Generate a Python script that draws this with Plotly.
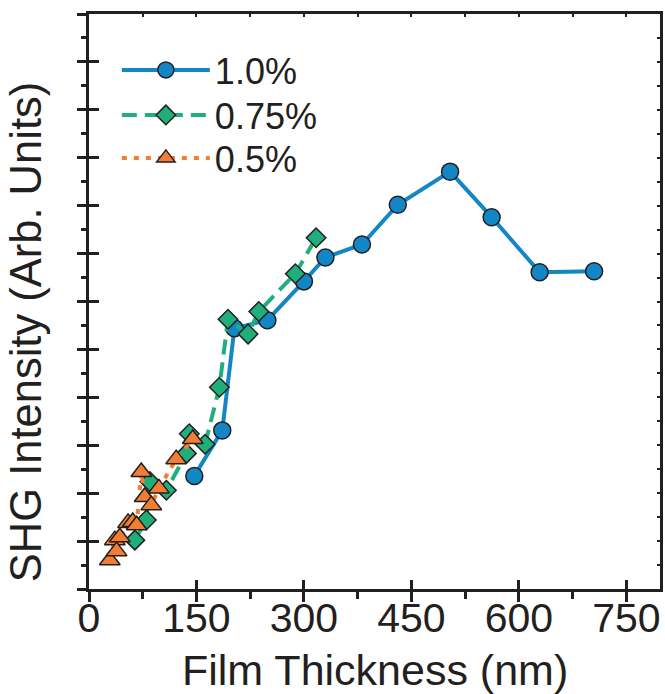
import plotly.graph_objects as go

# Data (x: film thickness in nm, y: SHG intensity, arb. units)
x_10 = [147, 186, 203, 249, 300, 330, 381, 431, 504, 562, 629, 705]
y_10 = [2.36, 3.31, 5.44, 5.61, 6.42, 6.92, 7.19, 8.02, 8.71, 7.76, 6.61, 6.63]

x_075 = [64, 80, 85, 108, 136, 140, 162, 182, 194, 222, 237, 288, 317]
y_075 = [1.02, 1.44, 2.24, 2.06, 2.83, 3.24, 3.02, 4.21, 5.63, 5.32, 5.79, 6.58, 7.33]

x_05 = [29, 36, 38.5, 43, 54.5, 61, 66.5, 73, 77.7, 87, 97.6, 121.7, 144.8]
y_05 = [0.60, 1.02, 0.79, 1.08, 1.38, 1.40, 1.33, 2.44, 1.92, 1.75, 2.10, 2.71, 3.13]

series_names = ["1.0%", "0.75%", "0.5%"]
x_ticks = [0, 150, 300, 450, 600, 750]
x_title = "Film Thickness (nm)"
y_title = "SHG Intensity (Arb. Units)"

INK = "#231F20"
FONT = "Liberation Sans, Arial, sans-serif"
BLUE = "#1387C6"
GREEN = "#20AF7B"
ORANGE = "#F37E33"

fig = go.Figure()
fig.add_trace(go.Scatter(
    x=x_10, y=y_10, name=series_names[0], mode="lines+markers", legend="legend",
    line=dict(color=BLUE, width=4),
    marker=dict(symbol="circle", size=17, color=BLUE, line=dict(color=INK, width=1.5)),
))
fig.add_trace(go.Scatter(
    x=x_075, y=y_075, name=series_names[1], mode="lines+markers", legend="legend2",
    line=dict(color=GREEN, width=4, dash="15px,8px"),
    marker=dict(symbol="diamond", size=15, color=GREEN, line=dict(color=INK, width=1.5)),
))
fig.add_trace(go.Scatter(
    x=x_05, y=y_05, name=series_names[2], mode="lines+markers", legend="legend3",
    line=dict(color=ORANGE, width=4, dash="5px,7px"),
    marker=dict(symbol="triangle-up", size=18, color=ORANGE, line=dict(color=INK, width=1.5)),
))

XR = [0, 797]
YR = [0, 12]
axis_common = dict(showgrid=False, zeroline=False, linecolor=INK, tickcolor=INK)


def leg(yc):
    return dict(x=0.0488, y=yc, xanchor="left", yanchor="middle",
                font=dict(size=36, color=INK, family=FONT),
                itemwidth=88, bgcolor="rgba(0,0,0,0)")


fig.update_layout(
    width=665, height=694,
    margin=dict(l=89, r=2, t=14, b=105),
    paper_bgcolor="white", plot_bgcolor="white",
    font=dict(family=FONT, color=INK),
    showlegend=True,
    legend=leg(0.9026),
    legend2=leg(0.8243),
    legend3=leg(0.7496),
    xaxis=dict(
        range=XR, tickvals=x_ticks, ticktext=[str(v) for v in x_ticks],
        showline=True, linewidth=3, mirror=True,
        ticks="outside", ticklen=10, tickwidth=3,
        minor=dict(ticks="outside", ticklen=7, tickwidth=3, dtick=75, tick0=0, tickcolor=INK),
        tickfont=dict(size=41, color=INK, family=FONT),
        ticklabelstandoff=-19,
        **axis_common,
    ),
    yaxis=dict(
        range=YR, dtick=1, tick0=0, showticklabels=False,
        showline=True, linewidth=3, mirror=True,
        ticks="outside", ticklen=9, tickwidth=3,
        minor=dict(ticks="outside", ticklen=5, tickwidth=3, dtick=0.5, tick0=0, tickcolor=INK),
        **axis_common,
    ),
    # inner halves of the crossing major ticks
    xaxis2=dict(overlaying="x", matches="x", side="bottom", anchor="y",
                tickvals=x_ticks, showticklabels=False, ticks="inside", ticklen=9, tickwidth=3,
                showline=False, **axis_common),
    yaxis2=dict(overlaying="y", matches="y", side="left", anchor="x",
                dtick=1, tick0=0, showticklabels=False, ticks="inside", ticklen=10, tickwidth=3,
                showline=False, **axis_common),
    # small mirrored ticks on top and right spines
    xaxis3=dict(overlaying="x", matches="x", side="top", anchor="y",
                dtick=75, tick0=0, showticklabels=False, ticks="inside", ticklen=3, tickwidth=2,
                showline=False, **axis_common),
    yaxis3=dict(overlaying="y", matches="y", side="right", anchor="x",
                dtick=0.5, tick0=0, showticklabels=False, ticks="inside", ticklen=3, tickwidth=2,
                showline=False, **axis_common),
    annotations=[
        dict(text=x_title, xref="paper", yref="paper", x=0.5, y=-0.141,
             xanchor="center", yanchor="middle", showarrow=False,
             font=dict(size=43, color=INK, family=FONT)),
        dict(text=y_title, xref="paper", yref="paper", x=-0.11, y=0.447,
             xanchor="center", yanchor="middle", showarrow=False, textangle=-90,
             font=dict(size=43.5, color=INK, family=FONT)),
    ],
)

# invisible anchors so the overlay axes are drawn
fig.add_trace(go.Scatter(x=[None], y=[None], xaxis="x2", yaxis="y2", showlegend=False, hoverinfo="skip"))
fig.add_trace(go.Scatter(x=[None], y=[None], xaxis="x3", yaxis="y3", showlegend=False, hoverinfo="skip"))

fig.write_html("out.html", config={"displayModeBar": False},
               post_script="document.body.style.margin='0';document.body.style.overflow='hidden';")
